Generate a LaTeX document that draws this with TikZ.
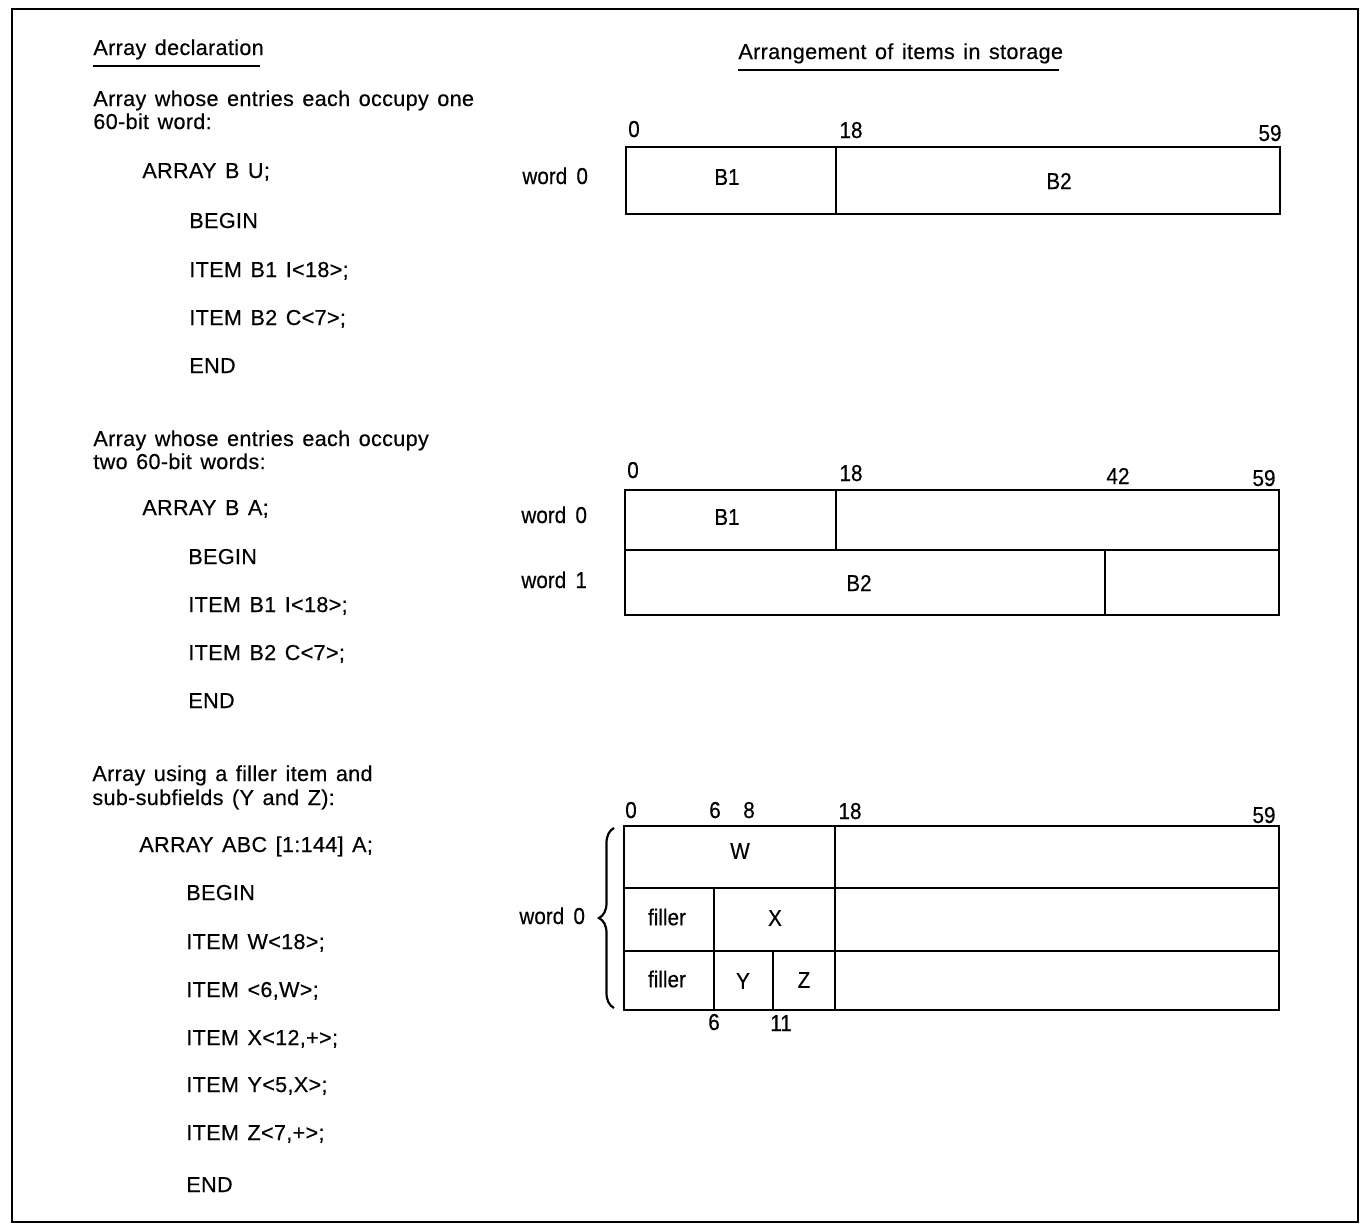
\documentclass[tikz,border=0pt]{standalone}
\usepackage{fontspec}
\setmainfont{Liberation Sans}
\newfontfamily\declfont[LetterSpace=1.5,WordSpace=1.35,FakeBold=0.4]{Liberation Sans}
\newfontfamily\cellfont[FakeStretch=0.9,WordSpace=1.6,FakeBold=0.4]{Liberation Sans}
\usetikzlibrary{decorations.pathreplacing}

\begin{document}
\begin{tikzpicture}[x=0.5pt,y=-0.5pt,
  decl/.style={font=\declfont\fontsize{10.8}{12}\selectfont, anchor=base west, inner sep=0pt},
  cell/.style={font=\cellfont\fontsize{11.5}{12}\selectfont, inner sep=0pt},
  wordlab/.style={cell, anchor=base west},
  bitno/.style={cell, anchor=base},
  box/.style={line width=1.3pt},
  rule/.style={line width=0.8pt}]
\useasboundingbox (0,0) rectangle (1361,1226);
\draw[box] (12,9) rectangle (1358,1222);
\node[decl] (hdecl) at (93,55) {Array declaration};
\draw[rule] (93,66) -- (260,66);
\node[decl] (hstore) at (738,59) {Arrangement of items in storage};
\draw[rule] (738,70) -- (1059,70);
\node[decl] (t1a) at (93,106) {Array whose entries each occupy one};
\node[decl] (t1b) at (93,129) {60-bit word:};
\node[decl] (t1c) at (142,178) {ARRAY B U;};
\node[decl] (t1d) at (189,228) {BEGIN};
\node[decl] (t1e) at (189,277) {ITEM B1 I<18>;};
\node[decl] (t1f) at (189,325) {ITEM B2 C<7>;};
\node[decl] (t1g) at (189,373) {END};
\node[decl] (t2a) at (93,446) {Array whose entries each occupy};
\node[decl] (t2b) at (93,469) {two 60-bit words:};
\node[decl] (t2c) at (142,515) {ARRAY B A;};
\node[decl] (t2d) at (188,564) {BEGIN};
\node[decl] (t2e) at (188,612) {ITEM B1 I<18>;};
\node[decl] (t2f) at (188,660) {ITEM B2 C<7>;};
\node[decl] (t2g) at (188,708) {END};
\node[decl] (t3a) at (92,781) {Array using a filler item and};
\node[decl] (t3b) at (92,805) {sub-subfields (Y and Z):};
\node[decl] (t3c) at (139,852) {ARRAY ABC [1:144] A;};
\node[decl] (t3d) at (186,900) {BEGIN};
\node[decl] (t3e) at (186,949) {ITEM W<18>;};
\node[decl] (t3f) at (186,997) {ITEM <6,W>;};
\node[decl] (t3g) at (186,1045) {ITEM X<12,+>;};
\node[decl] (t3h) at (186,1092) {ITEM Y<5,X>;};
\node[decl] (t3i) at (186,1140) {ITEM Z<7,+>;};
\node[decl] (t3j) at (186,1192) {END};
\draw[box] (626,147) rectangle (1280,214);
\draw[box] (836,147) -- (836,214);
\node[bitno] (a0) at (634,137) {0};
\node[bitno] (a18) at (851,138) {18};
\node[bitno] (a59) at (1270,141) {59};
\node[wordlab] (aw0) at (522,184) {word 0};
\node[cell] (ab1) at (727,177) {B1};
\node[cell] (ab2) at (1059,181) {B2};
\draw[box] (625,490) rectangle (1279,615);
\draw[box] (625,550) -- (1279,550);
\draw[box] (836,490) -- (836,550);
\draw[box] (1105,550) -- (1105,615);
\node[bitno] (b0) at (633,478) {0};
\node[bitno] (b18) at (851,481) {18};
\node[bitno] (b42) at (1118,484) {42};
\node[bitno] (b59) at (1264,486) {59};
\node[wordlab] (bw0) at (521,523) {word 0};
\node[wordlab] (bw1) at (521,588) {word 1};
\node[cell] (bb1) at (727,517) {B1};
\node[cell] (bb2) at (859,583) {B2};
\draw[box] (624,826) rectangle (1279,1010);
\draw[box] (624,888) -- (1279,888);
\draw[box] (624,951) -- (1279,951);
\draw[box] (835,826) -- (835,1010);
\draw[box] (714,888) -- (714,1010);
\draw[box] (773,951) -- (773,1010);
\node[bitno] (c0) at (631,818) {0};
\node[bitno] (c6) at (715,818) {6};
\node[bitno] (c8) at (749,818) {8};
\node[bitno] (c18) at (850,819) {18};
\node[bitno] (c59) at (1264,823) {59};
\node[bitno] (c6b) at (714,1030) {6};
\node[bitno] (c11) at (781,1031) {11};
\node[wordlab] (cw0) at (519,924) {word 0};
\node[cell] (cw) at (740,851) {W};
\node[cell] (cf1) at (667,917) {filler};
\node[cell] (cx) at (775,918) {X};
\node[cell] (cf2) at (667,979) {filler};
\node[cell] (cy) at (743,981) {Y};
\node[cell] (cz) at (804,980) {Z};
\draw[line width=1.1pt, decorate, decoration={brace, amplitude=7.5pt}] (614,1008) -- (614,828);
\end{tikzpicture}
\end{document}
